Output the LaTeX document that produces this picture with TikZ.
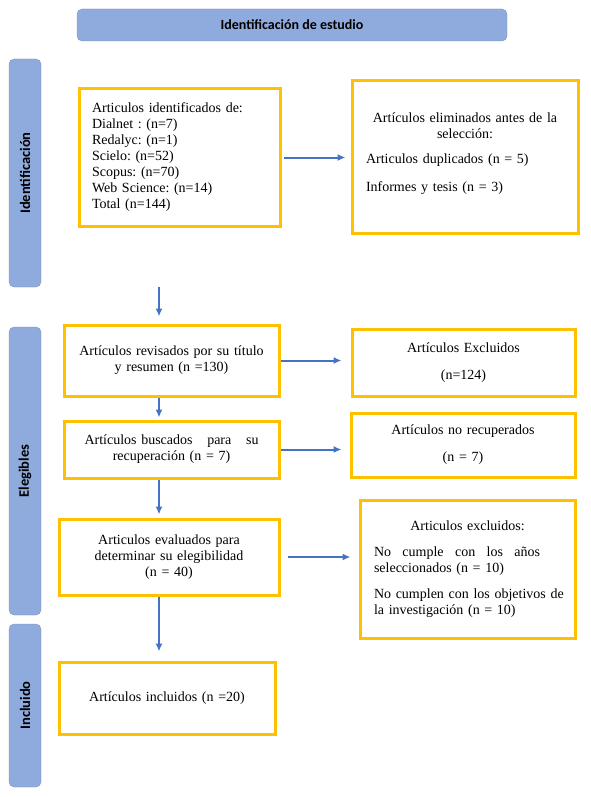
\documentclass[tikz,border=0pt]{standalone}
\usepackage{fontspec}
\setmainfont{Liberation Serif}
\newfontfamily\calib{Carlito}
\usetikzlibrary{arrows.meta,calc}
\definecolor{barblue}{HTML}{8FAADC}
\definecolor{arrblue}{HTML}{4472C4}
\definecolor{boxorange}{HTML}{FFC000}
\begin{document}
\frenchspacing
\begin{tikzpicture}[x=1pt,y=-1pt,
  bar/.style={fill=barblue, draw=barblue!85!black, line width=0.3pt, rounded corners=5pt, inner sep=0pt},
  barlabel/.style={font=\calib\bfseries\fontsize{14.5}{16}\selectfont, rotate=90},
  obox/.style={draw=boxorange, line width=3pt, fill=white, inner sep=0pt,
    font=\fontsize{14}{16}\selectfont},
  arr/.style={draw=arrblue, line width=2pt, -{Latex[length=8pt,width=7pt]}}]
\useasboundingbox (0,0) rectangle (590,797);
\fill[white] (0,0) rectangle (590,797);

% title
\node[bar, minimum width=430, minimum height=32, font=\calib\bfseries\fontsize{14}{16}\selectfont] (title) at (292,25) {Identificación de estudio};

% side bars
\node[bar, minimum width=32, minimum height=228] (bid) at (25,173) {};
\node[barlabel] (lid) at (bid.center) {Identificación};
\node[bar, minimum width=32, minimum height=288] (bel) at (25,471) {};
\node[barlabel] (lel) at (bel.center) {Elegibles};
\node[bar, minimum width=32, minimum height=163] (bin) at (25,705.5) {};
\node[barlabel] (lin) at (bin.center) {Incluido};

% left column
\node[obox, minimum width=201, minimum height=137, text width=175, align=left] (b1) at (179.5,157.5)
  {Articulos identificados de:\\ Dialnet : (n=7)\\ Redalyc: (n=1)\\ Scielo: (n=52)\\ Scopus: (n=70)\\ Web Science: (n=14)\\ Total (n=144)};

\node[obox, minimum width=215, minimum height=71, text width=190, align=center] (b3) at (171.5,360.5)
  {Artículos revisados por su título\\ y resumen (n =130)\\[3pt]};

\node[obox, minimum width=215, minimum height=57, text width=174] (b4) at (171.5,449.5)
  {\hbox to 174pt{Artículos buscados\hfill para\hfill su}\par
   \centering recuperación (n = 7)\par};

\node[obox, minimum width=220, minimum height=76, text width=190, align=center] (b5) at (169,557)
  {Articulos evaluados para\\ determinar su elegibilidad\\ (n = 40)};

\node[obox, minimum width=216, minimum height=72, text width=190, align=center] (b6) at (167,698)
  {Artículos incluidos (n =20)\\[8pt]};

% right column
\node[obox, minimum width=226, minimum height=152, text width=198] (b2) at (465,157)
  {\centering Artículos eliminados antes de la\\ selección:\par
   \vspace{9pt}\raggedright Articulos duplicados (n = 5)\par
   \vspace{12pt}Informes y tesis (n = 3)\par\vspace{-6pt}\hbox{}};

\node[obox, minimum width=223, minimum height=67, text width=200, align=center] (e1) at (463.5,362.5)
  {Artículos Excluidos\\[11pt] (n=124)};

\node[obox, minimum width=224, minimum height=64, text width=200, align=center] (e2) at (463,445)
  {Artículos no recuperados\\[11pt] (n = 7)};

\node[obox, minimum width=215, minimum height=138, text width=187] (e3) at (467.5,569)
  {\centering Articulos excluidos:\par
   \vspace{10pt}\raggedright
   \hbox to 166pt{No\hfill cumple\hfill con\hfill los\hfill años}\par
   seleccionados (n = 10)\par
   \vspace{10pt}\hbox to 187pt{No cumplen con los objetivos de}\par
   la investigación (n = 10)\par\vspace{4pt}};

% arrows
\coordinate (ax) at (159,0);
\draw[arr, shorten <=2pt, shorten >=5pt] (b1.east) -- (b1.east -| b2.west);
\draw[arr, shorten <=59pt, shorten >=7pt] (b1.south -| ax) -- (b3.north -| ax);
\draw[arr, shorten >=2pt] (b3.south -| ax) -- (b4.north -| ax);
\draw[arr, shorten >=3pt] (b4.south -| ax) -- (b5.north -| ax);
\draw[arr, shorten >=9pt] (b5.south -| ax) -- (b6.north -| ax);
\draw[arr, shorten >=9pt] (b3.east) -- (b3.east -| e1.west);
\draw[arr, shorten >=8pt] (b4.east) -- (b4.east -| e2.west);
\draw[arr, shorten <=7pt, shorten >=8pt] (b5.east) -- (b5.east -| e3.west);
\end{tikzpicture}
\end{document}
